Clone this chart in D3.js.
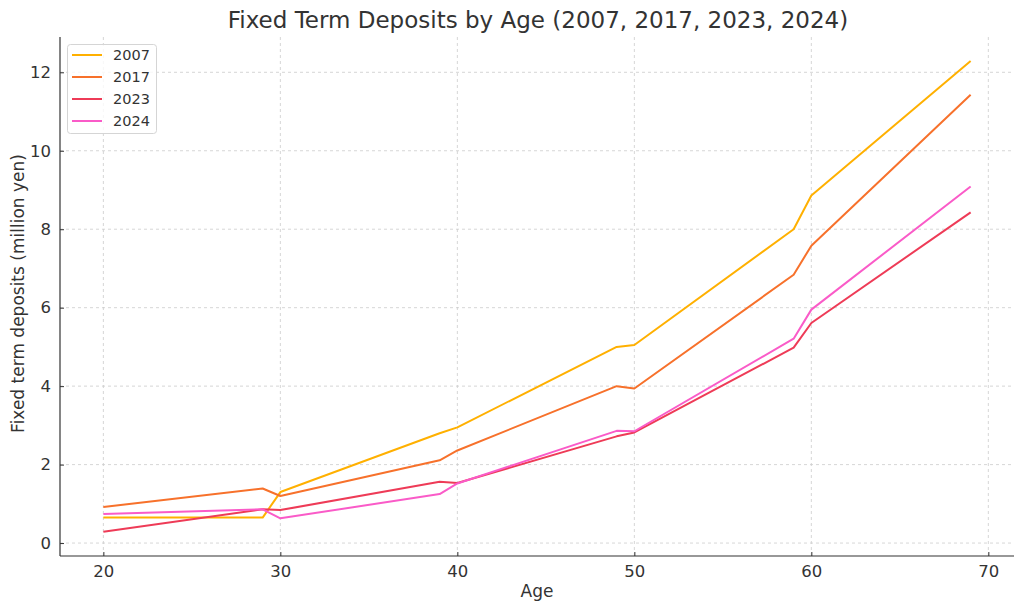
<!DOCTYPE html>
<html>
<head>
<meta charset="utf-8">
<script src="https://cdn.jsdelivr.net/npm/d3@7"></script>
<style>
  body { margin: 0; background: #fff; }
  svg { font-family: "DejaVu Sans", sans-serif; }
</style>
</head>
<body>
<svg id="chart" width="1024" height="611"></svg>
<script>
const ages = [20, 29, 30, 39, 40, 49, 50, 59, 60, 69];
const years = ["2007", "2017", "2023", "2024"];
const values2007 = [0.65, 0.65, 1.30, 2.80, 2.95, 5.00, 5.05, 8.00, 8.86, 12.29];
const values2017 = [0.92, 1.39, 1.20, 2.11, 2.36, 4.00, 3.94, 6.84, 7.58, 11.43];
const values2023 = [0.29, 0.86, 0.84, 1.56, 1.53, 2.72, 2.82, 4.98, 5.61, 8.43];
const values2024 = [0.74, 0.86, 0.63, 1.25, 1.52, 2.86, 2.85, 5.21, 5.95, 9.09];
const seriesValues = [values2007, values2017, values2023, values2024];
const colors = ["#FFB000", "#F7712B", "#EE3B57", "#FA5BC8"];
const xTicks = [20, 30, 40, 50, 60, 70];
const yTicks = [0, 2, 4, 6, 8, 10, 12];

(function () {
const svg = d3.select("#chart");
const mLeft = 60, mRight = 1014, mTop = 37, mBottom = 556;

const x = d3.scaleLinear().domain([17.55, 71.45]).range([mLeft, mRight]);
const y = d3.scaleLinear().domain([-0.33, 12.9]).range([mBottom, mTop]);

// grid
const grid = svg.append("g");
grid.selectAll("line.vx").data(xTicks).enter().append("line")
  .attr("x1", d => x(d)).attr("x2", d => x(d)).attr("y1", mTop).attr("y2", mBottom)
  .attr("stroke", "#cccccc").attr("stroke-width", 0.8).attr("stroke-dasharray", "3,3");
grid.selectAll("line.hy").data(yTicks).enter().append("line")
  .attr("y1", d => y(d)).attr("y2", d => y(d)).attr("x1", mLeft).attr("x2", mRight)
  .attr("stroke", "#cccccc").attr("stroke-width", 0.8).attr("stroke-dasharray", "3,3");

// lines
const line = d3.line().x((d, i) => x(ages[i])).y(d => y(d));
seriesValues.forEach((vals, k) => {
  svg.append("path").datum(vals).attr("d", line)
    .attr("fill", "none").attr("stroke", colors[k]).attr("stroke-width", 2)
    .attr("stroke-linejoin", "round");
});

// axes
const xAxis = d3.axisBottom(x).tickValues(xTicks).tickSizeInner(-4).tickSizeOuter(0).tickPadding(9);
const gx = svg.append("g").attr("transform", `translate(0,${mBottom})`).call(xAxis);
gx.select(".domain").attr("stroke", "#333").attr("stroke-width", 1.2).attr("d", `M${mLeft},0H${mRight}`);
gx.selectAll(".tick line").attr("stroke", "#333");
gx.selectAll(".tick text").attr("font-size", 16.5).attr("fill", "#333").attr("font-family", "DejaVu Sans");

const yAxis = d3.axisLeft(y).tickValues(yTicks).tickSizeInner(-4).tickSizeOuter(0).tickPadding(9);
const gy = svg.append("g").attr("transform", `translate(${mLeft},0)`).call(yAxis);
gy.select(".domain").attr("stroke", "#333").attr("stroke-width", 1.2).attr("d", `M0,${mBottom}V${mTop}`);
gy.selectAll(".tick line").attr("stroke", "#333");
gy.selectAll(".tick text").attr("font-size", 16.5).attr("fill", "#333").attr("font-family", "DejaVu Sans");

// labels
svg.append("text").attr("x", (mLeft + mRight) / 2).attr("y", 597).attr("text-anchor", "middle")
  .attr("font-size", 17).attr("fill", "#333").text("Age");
svg.append("text").attr("transform", `translate(24,${(mTop + mBottom) / 2 - 3}) rotate(-90)`)
  .attr("text-anchor", "middle").attr("font-size", 17).attr("fill", "#333")
  .text("Fixed term deposits (million yen)");
svg.append("text").attr("x", 538).attr("y", 28).attr("text-anchor", "middle")
  .attr("font-size", 23).attr("fill", "#333").text("Fixed Term Deposits by Age (2007, 2017, 2023, 2024)");

// legend
const lg = svg.append("g");
lg.append("rect").attr("x", 67.5).attr("y", 44.5).attr("width", 89).attr("height", 89)
  .attr("rx", 3).attr("fill", "#fff").attr("fill-opacity", 0.8).attr("stroke", "#d5d5d5");
years.forEach((yr, i) => {
  const yy = 55 + i * 22;
  lg.append("line").attr("x1", 72).attr("x2", 102).attr("y1", yy).attr("y2", yy)
    .attr("stroke", colors[i]).attr("stroke-width", 2);
  lg.append("text").attr("x", 113).attr("y", yy + 5).attr("font-size", 14.5).attr("fill", "#333").text(yr);
});
})();
</script>
</body>
</html>
